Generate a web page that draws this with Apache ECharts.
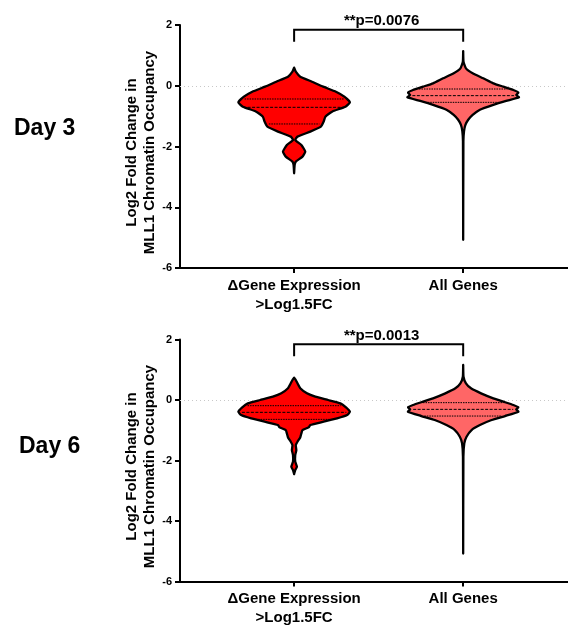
<!DOCTYPE html>
<html>
<head>
<meta charset="utf-8">
<script src="https://cdn.jsdelivr.net/npm/echarts@6/dist/echarts.min.js"></script>
<style>html,body{margin:0;padding:0;background:#fff}#c{width:568px;height:630px}</style>
</head>
<body>
<div id="c"></div>
<script>
// ---------- data ----------
const categories = ["ΔGene Expression\n>Log1.5FC", "All Genes"];
const panelNames = ["Day 3", "Day 6"];
const pLabels = ["**p=0.0076", "**p=0.0013"];
const yTicks = [-6, -4, -2, 0, 2];

// violin profiles: y level and relative density (1 = widest)
const day3GeneY = [0.595, 0.463, 0.299, 0.134, -0.03, -0.195, -0.359, -0.545, -0.688, -0.853, -1.017, -1.18, -1.346, -1.51, -1.675, -1.785, -1.949, -2.168, -2.333, -2.497, -2.607, -2.881];
const day3GeneW = [0, 0.03, 0.11, 0.32, 0.52, 0.75, 0.90, 1.0, 0.92, 0.68, 0.56, 0.53, 0.48, 0.29, 0.06, 0.02, 0.13, 0.20, 0.15, 0.03, 0.01, 0];
const day3GeneQ = [-0.436, -0.71, -1.258];

const day3AllY = [1.143, 0.792, 0.573, 0.409, 0.244, 0.08, -0.03, -0.14, -0.228, -0.304, -0.38, -0.5, -0.63, -0.79, -0.96, -1.12, -1.29, -1.5, -1.83, -5.07];
const day3AllW = [0, 0.006, 0.05, 0.17, 0.36, 0.54, 0.72, 0.90, 0.99, 0.95, 1.0, 0.77, 0.54, 0.30, 0.17, 0.09, 0.04, 0.015, 0.004, 0];
const day3AllQ = [-0.107, -0.326, -0.546];

const day6GeneY = [0.739, 0.662, 0.552, 0.386, 0.22, 0.11, 0, -0.11, -0.243, -0.386, -0.497, -0.607, -0.717, -0.828, -0.905, -0.993, -1.104, -1.236, -1.38, -1.49, -1.656, -1.82, -2.04, -2.207, -2.318, -2.45];
const day6GeneW = [0, 0.03, 0.06, 0.11, 0.23, 0.38, 0.61, 0.83, 0.93, 1.0, 0.95, 0.77, 0.53, 0.29, 0.26, 0.15, 0.13, 0.11, 0.06, 0.03, 0.04, 0.02, 0.02, 0.05, 0.02, 0];
const day6GeneQ = [-0.188, -0.408, -0.64];

const day6AllY = [1.159, 0.77, 0.55, 0.386, 0.22, 0.055, -0.055, -0.166, -0.243, -0.31, -0.386, -0.53, -0.662, -0.828, -0.993, -1.214, -1.435, -1.876, -5.077];
const day6AllW = [0, 0.006, 0.05, 0.14, 0.32, 0.54, 0.72, 0.90, 0.99, 0.95, 0.99, 0.75, 0.51, 0.30, 0.15, 0.06, 0.02, 0.004, 0];
const day6AllQ = [-0.088, -0.309, -0.53];

// ---------- build ----------
const FONT = 'Arial, "Liberation Sans", sans-serif';
const VW = 0.33;          // max half width in x units
const colors = ['#ff0000', '#ff6666'];

const panels = [
  [{y: day3GeneY, w: day3GeneW, q: day3GeneQ}, {y: day3AllY, w: day3AllW, q: day3AllQ}],
  [{y: day6GeneY, w: day6GeneW, q: day6GeneQ}, {y: day6AllY, w: day6AllW, q: day6AllQ}]
];

function interpW(prof, v) {
  const ys = prof.y, ws = prof.w;
  for (let i = 0; i < ys.length - 1; i++) {
    if (v <= ys[i] && v >= ys[i + 1]) {
      const t = (ys[i] - v) / (ys[i] - ys[i + 1]);
      return ws[i] + t * (ws[i + 1] - ws[i]);
    }
  }
  return 0;
}

function violinRender(prof, color, xpos) {
  return function (params, api) {
    const right = [], left = [];
    for (let i = 0; i < prof.y.length; i++) {
      const hw = prof.w[i] * VW;
      right.push(api.coord([xpos + hw, prof.y[i]]));
      left.push(api.coord([xpos - hw, prof.y[i]]));
    }
    const pts = right.concat(left.reverse());
    const children = [{
      type: 'polygon',
      shape: {points: pts, smooth: 0.15},
      style: {fill: color, stroke: '#000', lineWidth: 2.3, lineJoin: 'round'}
    }];
    prof.q.forEach((qv, k) => {
      const hw = interpW(prof, qv) * VW;
      const a = api.coord([xpos - hw, qv]);
      const b = api.coord([xpos + hw, qv]);
      children.push({
        type: 'line',
        shape: {x1: a[0] + 3, y1: a[1], x2: b[0] - 3, y2: b[1]},
        style: {stroke: '#000', lineWidth: 1, lineDash: k === 1 ? [3, 1.5] : [1.5, 1]}
      });
    });
    return {type: 'group', children: children};
  };
}

function bracketRender(label) {
  return function (params, api) {
    const tl = api.coord([1, 1.84]);
    const bl = api.coord([1, 1.45]);
    const tr = api.coord([2, 1.84]);
    const br = api.coord([2, 1.45]);
    const t = api.coord([1.5, 2.12]);
    return {
      type: 'group',
      children: [
        {type: 'polyline', shape: {points: [bl, tl, tr, br]}, style: {stroke: '#000', lineWidth: 2, fill: null}},
        {type: 'text', x: t[0] + 3, y: t[1], style: {text: label, font: 'bold 15px ' + FONT, fill: '#000', align: 'center', verticalAlign: 'middle'}}
      ]
    };
  };
}

const grids = [
  {left: 180, right: 0, top: 25, height: 243},
  {left: 180, right: 0, top: 339.5, height: 242}
];

const xAxes = [], yAxes = [], series = [];
for (let p = 0; p < 2; p++) {
  xAxes.push({
    gridIndex: p, type: 'value', min: 0.325, max: 2.62,
    splitLine: {show: false},
    axisLine: {show: true, onZero: false, lineStyle: {color: '#000', width: 2}},
    axisTick: {show: true, customValues: [1, 2], length: 5, lineStyle: {color: '#000', width: 2}},
    axisLabel: {
      show: true, customValues: [1, 2], margin: 8,
      formatter: v => categories[Math.round(v) - 1],
      fontFamily: FONT, fontWeight: 'bold', fontSize: 15, lineHeight: 19, color: '#000'
    }
  });
  yAxes.push({
    gridIndex: p, type: 'value', min: yTicks[0], max: yTicks[yTicks.length - 1], interval: 2,
    name: 'Log2 Fold Change in\nMLL1 Chromatin Occupancy',
    nameLocation: 'middle', nameRotate: 90, nameGap: 21, nameMoveOverlap: false,
    nameTextStyle: {fontFamily: FONT, fontWeight: 'bold', fontSize: 15, lineHeight: 18, color: '#000', padding: [0, 12, 0, 0]},
    splitLine: {show: false},
    axisLine: {show: true, lineStyle: {color: '#000', width: 2}},
    axisTick: {show: true, length: 5, lineStyle: {color: '#000', width: 2}},
    axisLabel: {fontFamily: FONT, fontWeight: 'bold', fontSize: 11, color: '#000', margin: 8}
  });
  for (let v = 0; v < 2; v++) {
    const s = {
      type: 'custom', xAxisIndex: p, yAxisIndex: p,
      data: [[v + 1, panels[p][v].q[1]]],
      renderItem: violinRender(panels[p][v], colors[v], v + 1),
      z: 3, silent: true
    };
    if (v === 0) {
      s.markLine = {
        silent: true, symbol: 'none', label: {show: false},
        lineStyle: {color: '#c8c8c8', type: [1, 3], width: 1},
        data: [{yAxis: 0}], z: 1
      };
    }
    series.push(s);
  }
  series.push({
    type: 'custom', xAxisIndex: p, yAxisIndex: p,
    data: [[1.5, 1.8]],
    renderItem: bracketRender(pLabels[p]), silent: true
  });
}

const chart = echarts.init(document.getElementById('c'), null, {renderer: 'canvas'});
chart.setOption({
  animation: false,
  backgroundColor: '#fff',
  grid: grids,
  xAxis: xAxes,
  yAxis: yAxes,
  series: series,
  graphic: [
    {type: 'text', left: 14, top: 117, style: {text: panelNames[0], font: 'bold 23px ' + FONT, fill: '#000'}},
    {type: 'text', left: 19, top: 435, style: {text: panelNames[1], font: 'bold 23px ' + FONT, fill: '#000'}}
  ]
});
</script>
</body>
</html>
